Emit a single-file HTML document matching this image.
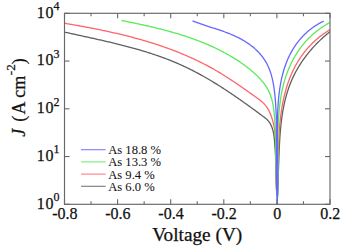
<!DOCTYPE html>
<html><head><meta charset="utf-8"><style>
html,body{margin:0;padding:0;background:#fff;width:342px;height:247px;overflow:hidden}
svg{display:block}
text{font-family:"Liberation Serif",serif;font-size:16px;fill:#111;stroke:#111;stroke-width:0.25px}
.sup{font-size:12px}
.leg{font-size:12.6px;stroke-width:0.05px}
</style></head><body>
<svg width="342" height="247" viewBox="0 0 342 247">
<defs><clipPath id="c"><rect x="64.50" y="13.30" width="265.50" height="191.00"/></clipPath></defs>
<g fill="none" stroke-width="1.30" stroke-linejoin="round" clip-path="url(#c)"><path d="M64.47,32.08 L65.44,32.29 L66.40,32.51 L67.37,32.72 L68.33,32.94 L69.30,33.15 L70.26,33.36 L71.23,33.58 L72.19,33.79 L73.16,34.00 L74.13,34.21 L75.09,34.42 L76.06,34.64 L77.03,34.85 L77.99,35.06 L78.96,35.27 L79.93,35.48 L80.89,35.69 L81.86,35.91 L82.83,36.12 L83.80,36.33 L84.76,36.54 L85.73,36.75 L86.70,36.96 L87.67,37.18 L88.64,37.39 L89.60,37.60 L90.57,37.82 L91.54,38.03 L92.51,38.25 L93.48,38.46 L94.44,38.67 L95.41,38.89 L96.38,39.11 L97.35,39.32 L98.31,39.54 L99.28,39.76 L100.25,39.98 L101.21,40.20 L102.18,40.42 L103.15,40.64 L104.11,40.86 L105.08,41.08 L106.04,41.31 L107.01,41.53 L107.97,41.76 L108.94,41.98 L109.90,42.21 L110.87,42.44 L111.83,42.67 L112.80,42.90 L113.76,43.13 L114.72,43.37 L115.68,43.60 L116.65,43.84 L117.61,44.07 L118.57,44.31 L119.53,44.55 L120.49,44.79 L121.45,45.04 L122.41,45.28 L123.37,45.52 L124.33,45.77 L125.28,46.02 L126.24,46.27 L127.20,46.52 L128.16,46.78 L129.11,47.03 L130.07,47.29 L131.02,47.55 L131.97,47.81 L132.93,48.07 L133.88,48.33 L134.83,48.60 L135.78,48.87 L136.73,49.14 L137.68,49.41 L138.63,49.68 L139.58,49.96 L140.53,50.24 L141.48,50.52 L142.42,50.80 L143.37,51.08 L144.31,51.37 L145.26,51.66 L146.20,51.95 L147.14,52.25 L148.08,52.54 L149.02,52.84 L149.96,53.14 L150.90,53.44 L151.84,53.75 L152.78,54.06 L153.71,54.37 L154.65,54.68 L155.58,55.00 L156.51,55.32 L157.45,55.64 L158.38,55.97 L159.31,56.29 L160.24,56.62 L161.16,56.96 L162.09,57.29 L163.02,57.63 L163.94,57.97 L164.86,58.32 L165.79,58.66 L166.71,59.01 L167.63,59.37 L168.55,59.72 L169.46,60.08 L170.38,60.45 L171.30,60.81 L172.21,61.18 L173.12,61.56 L174.04,61.93 L174.95,62.31 L175.86,62.69 L176.76,63.08 L177.67,63.47 L178.57,63.86 L179.48,64.26 L180.38,64.66 L181.28,65.06 L182.18,65.47 L183.08,65.88 L183.98,66.30 L184.87,66.72 L185.77,67.14 L186.66,67.56 L187.55,67.99 L188.44,68.43 L189.33,68.86 L190.22,69.30 L191.11,69.75 L191.99,70.19 L192.87,70.64 L193.75,71.09 L194.64,71.55 L195.51,72.01 L196.39,72.47 L197.27,72.94 L198.14,73.41 L199.02,73.88 L199.89,74.35 L200.76,74.83 L201.63,75.31 L202.50,75.80 L203.37,76.28 L204.23,76.77 L205.10,77.26 L205.96,77.76 L206.82,78.26 L207.68,78.76 L208.54,79.26 L209.40,79.76 L210.25,80.27 L211.11,80.78 L211.96,81.29 L212.81,81.81 L213.67,82.32 L214.52,82.84 L215.36,83.36 L216.21,83.89 L217.06,84.41 L217.90,84.94 L218.74,85.47 L219.59,86.00 L220.43,86.53 L221.27,87.07 L222.11,87.61 L222.94,88.14 L223.78,88.69 L224.61,89.23 L225.45,89.77 L226.28,90.32 L227.11,90.87 L227.94,91.42 L228.77,91.97 L229.59,92.52 L230.42,93.07 L231.24,93.63 L232.07,94.18 L232.89,94.74 L233.71,95.30 L234.53,95.86 L235.35,96.42 L236.17,96.98 L236.98,97.55 L237.80,98.11 L238.61,98.68 L239.42,99.24 L240.23,99.81 L241.04,100.38 L241.85,100.95 L242.66,101.52 L243.47,102.09 L244.27,102.66 L245.07,103.24 L245.88,103.81 L246.68,104.38 L247.48,104.96 L248.28,105.53 L249.08,106.11 L249.87,106.68 L250.67,107.26 L251.46,107.83 L252.26,108.41 L253.05,108.99 L253.84,109.56 L254.63,110.14 L255.42,110.72 L256.21,111.30 L257.00,111.87 L257.78,112.45 L258.57,113.03 L259.35,113.61 L260.13,114.18 L260.91,114.76 L261.69,115.34 L262.47,115.91 L263.25,116.49 L264.02,117.07 L264.79,117.65 L265.54,118.25 L266.27,118.86 L266.98,119.50 L267.65,120.17 L268.27,120.87 L268.87,121.61 L269.42,122.38 L269.94,123.18 L270.42,124.00 L270.86,124.85 L271.28,125.73 L271.66,126.62 L272.01,127.54 L272.33,128.47 L272.63,129.42 L272.89,130.38 L273.14,131.36 L273.36,132.34 L273.56,133.34 L273.74,134.35 L273.90,135.37 L274.04,136.39 L274.17,137.42 L274.29,138.45 L274.39,139.49 L274.49,140.53 L274.58,141.56 L274.66,142.60 L274.74,143.63 L274.81,144.66 L274.89,145.69 L274.96,146.71 L275.03,147.72 L275.10,148.73 L275.17,149.73 L275.24,150.73 L275.31,151.72 L275.38,152.71 L275.44,153.70 L275.51,154.68 L275.57,155.66 L275.64,156.64 L275.70,157.62 L275.76,158.59 L275.82,159.56 L275.88,160.53 L275.94,161.49 L276.00,162.46 L276.05,163.42 L276.11,164.38 L276.16,165.35 L276.21,166.31 L276.26,167.27 L276.31,168.24 L276.36,169.20 L276.41,170.16 L276.45,171.13 L276.50,172.10 L276.54,173.06 L276.58,174.03 L276.62,175.01 L276.65,175.98 L276.69,176.96 L276.72,177.94 L276.75,178.92 L276.78,179.91 L276.81,180.90 L276.84,181.90 L276.86,182.90 L276.88,183.90 L276.90,184.91 L276.92,185.92 L276.94,186.94 L276.95,187.97 L276.96,189.00 L276.96,190.00 L277.38,190.00 L277.38,189.82 L277.43,189.15 L277.48,188.48 L277.53,187.81 L277.58,187.13 L277.62,186.46 L277.67,185.78 L277.71,185.11 L277.75,184.43 L277.80,183.75 L277.84,183.07 L277.88,182.39 L277.91,181.71 L277.95,181.02 L277.99,180.34 L278.02,179.66 L278.06,178.97 L278.09,178.28 L278.12,177.60 L278.16,176.91 L278.19,176.22 L278.22,175.53 L278.25,174.84 L278.28,174.15 L278.31,173.45 L278.34,172.76 L278.36,172.07 L278.39,171.37 L278.42,170.68 L278.45,169.98 L278.47,169.29 L278.50,168.59 L278.52,167.89 L278.55,167.19 L278.57,166.50 L278.60,165.80 L278.62,165.10 L278.65,164.40 L278.67,163.70 L278.70,162.99 L278.72,162.29 L278.75,161.59 L278.77,160.89 L278.80,160.18 L278.82,159.48 L278.85,158.78 L278.87,158.07 L278.90,157.37 L278.93,156.66 L278.95,155.96 L278.98,155.25 L279.01,154.55 L279.03,153.84 L279.06,153.13 L279.09,152.43 L279.12,151.72 L279.15,151.01 L279.18,150.30 L279.21,149.60 L279.24,148.89 L279.27,148.18 L279.30,147.47 L279.34,146.77 L279.37,146.06 L279.41,145.35 L279.44,144.64 L279.48,143.93 L279.52,143.22 L279.56,142.52 L279.60,141.81 L279.64,141.10 L279.68,140.39 L279.72,139.68 L279.77,138.97 L279.81,138.27 L279.86,137.56 L279.91,136.85 L279.96,136.14 L280.01,135.44 L280.06,134.73 L280.11,134.02 L280.17,133.32 L280.22,132.61 L280.28,131.90 L280.34,131.20 L280.40,130.49 L280.46,129.79 L280.52,129.08 L280.59,128.38 L280.66,127.67 L280.73,126.97 L280.80,126.26 L280.87,125.56 L280.94,124.86 L281.02,124.16 L281.10,123.45 L281.18,122.75 L281.26,122.05 L281.34,121.35 L281.43,120.65 L281.52,119.95 L281.61,119.25 L281.70,118.56 L281.80,117.86 L281.89,117.16 L281.99,116.47 L282.09,115.77 L282.20,115.08 L282.30,114.38 L282.41,113.69 L282.52,113.00 L282.64,112.30 L282.75,111.61 L282.87,110.92 L282.99,110.23 L283.12,109.54 L283.24,108.86 L283.37,108.17 L283.50,107.48 L283.64,106.80 L283.77,106.11 L283.91,105.43 L284.06,104.75 L284.20,104.06 L284.35,103.38 L284.50,102.70 L284.66,102.02 L284.82,101.35 L284.98,100.67 L285.14,99.99 L285.31,99.32 L285.48,98.65 L285.65,97.97 L285.83,97.30 L286.01,96.63 L286.19,95.96 L286.38,95.29 L286.57,94.63 L286.76,93.96 L286.96,93.30 L287.16,92.63 L287.36,91.97 L287.57,91.31 L287.78,90.65 L287.99,90.00 L288.21,89.34 L288.43,88.68 L288.66,88.03 L288.89,87.38 L289.12,86.73 L289.36,86.08 L289.60,85.43 L289.84,84.78 L290.09,84.14 L290.35,83.49 L290.60,82.85 L290.86,82.21 L291.13,81.57 L291.40,80.93 L291.67,80.29 L291.95,79.66 L292.23,79.03 L292.51,78.40 L292.80,77.77 L293.10,77.14 L293.39,76.51 L293.70,75.89 L294.00,75.26 L294.31,74.64 L294.63,74.02 L294.94,73.40 L295.26,72.79 L295.59,72.17 L295.92,71.56 L296.25,70.95 L296.59,70.34 L296.93,69.73 L297.27,69.13 L297.62,68.52 L297.98,67.92 L298.33,67.32 L298.69,66.73 L299.05,66.13 L299.42,65.54 L299.79,64.94 L300.16,64.35 L300.54,63.77 L300.92,63.18 L301.31,62.60 L301.69,62.01 L302.08,61.43 L302.48,60.86 L302.88,60.28 L303.28,59.71 L303.68,59.14 L304.09,58.57 L304.50,58.00 L304.92,57.44 L305.33,56.87 L305.75,56.31 L306.18,55.76 L306.60,55.20 L307.03,54.65 L307.47,54.09 L307.90,53.55 L308.34,53.00 L308.79,52.45 L309.23,51.91 L309.68,51.37 L310.13,50.84 L310.59,50.30 L311.04,49.77 L311.50,49.24 L311.97,48.71 L312.43,48.19 L312.90,47.66 L313.37,47.14 L313.84,46.62 L314.32,46.11 L314.80,45.60 L315.28,45.09 L315.77,44.58 L316.25,44.07 L316.74,43.57 L317.24,43.07 L317.73,42.58 L318.23,42.08 L318.73,41.59 L319.23,41.10 L319.74,40.61 L320.24,40.13 L320.75,39.65 L321.26,39.17 L321.78,38.70 L322.30,38.22 L322.81,37.75 L323.34,37.29 L323.86,36.82 L324.38,36.36 L324.91,35.90 L325.44,35.45 L325.97,34.99 L326.51,34.54 L327.04,34.10 L327.58,33.65 L328.12,33.21 L328.66,32.77 L329.21,32.34 L329.75,31.91 L330.30,31.48" stroke="#606060"/><path d="M64.48,23.24 L65.51,23.42 L66.53,23.59 L67.56,23.77 L68.59,23.95 L69.61,24.12 L70.64,24.30 L71.66,24.48 L72.69,24.66 L73.72,24.84 L74.74,25.02 L75.77,25.20 L76.80,25.39 L77.82,25.57 L78.85,25.76 L79.88,25.94 L80.91,26.13 L81.93,26.32 L82.96,26.51 L83.99,26.70 L85.01,26.89 L86.04,27.08 L87.07,27.27 L88.09,27.47 L89.12,27.66 L90.14,27.86 L91.17,28.06 L92.20,28.26 L93.22,28.46 L94.25,28.66 L95.27,28.87 L96.30,29.07 L97.32,29.28 L98.35,29.48 L99.37,29.69 L100.40,29.90 L101.42,30.11 L102.45,30.33 L103.47,30.54 L104.49,30.76 L105.52,30.98 L106.54,31.19 L107.56,31.42 L108.58,31.64 L109.61,31.86 L110.63,32.09 L111.65,32.31 L112.67,32.54 L113.69,32.77 L114.71,33.01 L115.73,33.24 L116.75,33.47 L117.76,33.71 L118.78,33.95 L119.80,34.19 L120.82,34.43 L121.83,34.68 L122.85,34.93 L123.86,35.17 L124.88,35.42 L125.89,35.68 L126.91,35.93 L127.92,36.19 L128.93,36.44 L129.94,36.71 L130.95,36.97 L131.96,37.23 L132.97,37.50 L133.98,37.77 L134.99,38.04 L136.00,38.31 L137.01,38.58 L138.01,38.86 L139.02,39.14 L140.02,39.42 L141.03,39.71 L142.03,39.99 L143.03,40.28 L144.03,40.57 L145.03,40.86 L146.03,41.16 L147.03,41.46 L148.03,41.76 L149.03,42.06 L150.03,42.36 L151.02,42.67 L152.02,42.98 L153.01,43.29 L154.00,43.61 L154.99,43.93 L155.99,44.25 L156.98,44.57 L157.96,44.89 L158.95,45.22 L159.94,45.55 L160.93,45.89 L161.91,46.22 L162.89,46.56 L163.88,46.90 L164.86,47.24 L165.84,47.59 L166.82,47.94 L167.80,48.29 L168.77,48.65 L169.75,49.01 L170.73,49.37 L171.70,49.73 L172.67,50.10 L173.64,50.47 L174.61,50.84 L175.58,51.22 L176.55,51.60 L177.52,51.98 L178.48,52.36 L179.45,52.75 L180.41,53.14 L181.37,53.54 L182.33,53.93 L183.29,54.33 L184.25,54.74 L185.20,55.14 L186.16,55.55 L187.11,55.97 L188.06,56.38 L189.01,56.80 L189.96,57.23 L190.91,57.65 L191.86,58.08 L192.80,58.52 L193.74,58.95 L194.69,59.39 L195.63,59.83 L196.56,60.28 L197.50,60.73 L198.44,61.19 L199.37,61.64 L200.30,62.10 L201.23,62.57 L202.16,63.04 L203.09,63.51 L204.02,63.98 L204.94,64.46 L205.87,64.94 L206.79,65.43 L207.71,65.92 L208.63,66.41 L209.54,66.91 L210.46,67.41 L211.37,67.92 L212.28,68.43 L213.19,68.94 L214.10,69.45 L215.00,69.97 L215.91,70.50 L216.81,71.03 L217.71,71.56 L218.61,72.09 L219.51,72.63 L220.40,73.17 L221.30,73.72 L222.19,74.27 L223.08,74.82 L223.97,75.37 L224.86,75.93 L225.75,76.49 L226.63,77.05 L227.52,77.62 L228.40,78.19 L229.28,78.76 L230.16,79.33 L231.04,79.91 L231.92,80.49 L232.79,81.07 L233.67,81.65 L234.54,82.23 L235.42,82.82 L236.29,83.41 L237.16,84.00 L238.03,84.59 L238.90,85.19 L239.76,85.78 L240.63,86.38 L241.50,86.98 L242.36,87.58 L243.23,88.18 L244.09,88.78 L244.95,89.39 L245.82,89.99 L246.68,90.60 L247.54,91.21 L248.40,91.81 L249.26,92.42 L250.11,93.03 L250.97,93.64 L251.83,94.25 L252.69,94.86 L253.54,95.47 L254.40,96.08 L255.25,96.70 L256.11,97.31 L256.96,97.92 L257.81,98.53 L258.66,99.15 L259.50,99.77 L260.32,100.41 L261.13,101.05 L261.92,101.72 L262.68,102.40 L263.42,103.10 L264.13,103.82 L264.81,104.57 L265.46,105.34 L266.08,106.13 L266.66,106.95 L267.23,107.79 L267.76,108.64 L268.27,109.51 L268.75,110.40 L269.21,111.30 L269.65,112.22 L270.06,113.15 L270.46,114.09 L270.83,115.04 L271.19,116.00 L271.53,116.97 L271.85,117.94 L272.16,118.92 L272.45,119.91 L272.72,120.90 L272.99,121.89 L273.23,122.89 L273.47,123.89 L273.69,124.90 L273.90,125.91 L274.09,126.93 L274.27,127.95 L274.44,128.97 L274.60,130.00 L274.75,131.03 L274.89,132.06 L275.01,133.10 L275.13,134.14 L275.24,135.18 L275.33,136.23 L275.42,137.27 L275.50,138.32 L275.57,139.38 L275.64,140.43 L275.69,141.49 L275.74,142.55 L275.78,143.61 L275.82,144.67 L275.85,145.74 L275.87,146.80 L275.89,147.87 L275.90,148.94 L275.91,150.01 L275.92,151.08 L275.92,152.15 L275.92,153.22 L275.91,154.29 L275.90,155.36 L275.89,156.43 L275.88,157.50 L275.87,158.57 L275.85,159.65 L275.84,160.72 L275.82,161.79 L275.80,162.85 L275.79,163.92 L275.77,164.99 L275.76,166.06 L275.74,167.12 L275.73,168.18 L275.72,169.25 L275.72,170.31 L275.71,171.36 L275.71,172.42 L275.71,173.47 L275.72,174.52 L275.73,175.57 L275.75,176.62 L275.77,177.66 L275.79,178.70 L275.82,179.74 L275.86,180.78 L275.91,181.81 L275.96,182.84 L276.02,183.86 L276.08,184.88 L276.16,185.90 L276.24,186.91 L276.33,187.92 L276.43,188.92 L276.54,189.92 L276.66,190.92 L276.79,191.91 L276.93,192.90 L277.08,193.88 L277.25,194.85 L277.25,195.00 L277.66,195.00 L277.66,194.65 L277.69,193.96 L277.72,193.28 L277.74,192.59 L277.77,191.90 L277.79,191.20 L277.81,190.51 L277.83,189.82 L277.86,189.12 L277.87,188.42 L277.89,187.72 L277.91,187.02 L277.93,186.32 L277.94,185.61 L277.96,184.91 L277.97,184.20 L277.99,183.50 L278.00,182.79 L278.02,182.08 L278.03,181.36 L278.04,180.65 L278.05,179.94 L278.06,179.22 L278.07,178.51 L278.08,177.79 L278.09,177.07 L278.10,176.35 L278.11,175.63 L278.12,174.91 L278.13,174.18 L278.13,173.46 L278.14,172.74 L278.15,172.01 L278.16,171.28 L278.17,170.56 L278.17,169.83 L278.18,169.10 L278.19,168.37 L278.20,167.64 L278.20,166.90 L278.21,166.17 L278.22,165.44 L278.23,164.70 L278.24,163.97 L278.25,163.23 L278.25,162.49 L278.26,161.76 L278.27,161.02 L278.28,160.28 L278.29,159.54 L278.30,158.80 L278.32,158.06 L278.33,157.32 L278.34,156.58 L278.35,155.84 L278.37,155.09 L278.38,154.35 L278.39,153.61 L278.41,152.86 L278.43,152.12 L278.44,151.37 L278.46,150.63 L278.48,149.88 L278.50,149.14 L278.52,148.39 L278.54,147.65 L278.56,146.90 L278.59,146.15 L278.61,145.41 L278.63,144.66 L278.66,143.91 L278.69,143.17 L278.72,142.42 L278.75,141.67 L278.78,140.92 L278.81,140.18 L278.84,139.43 L278.88,138.68 L278.91,137.93 L278.95,137.18 L278.99,136.44 L279.03,135.69 L279.07,134.94 L279.12,134.19 L279.16,133.45 L279.21,132.70 L279.26,131.95 L279.31,131.21 L279.36,130.46 L279.41,129.71 L279.46,128.97 L279.52,128.22 L279.58,127.48 L279.64,126.73 L279.70,125.99 L279.77,125.24 L279.83,124.50 L279.90,123.76 L279.97,123.01 L280.04,122.27 L280.12,121.53 L280.19,120.79 L280.27,120.04 L280.35,119.30 L280.43,118.56 L280.52,117.82 L280.61,117.09 L280.69,116.35 L280.79,115.61 L280.88,114.87 L280.98,114.14 L281.08,113.40 L281.18,112.67 L281.28,111.93 L281.39,111.20 L281.50,110.47 L281.61,109.74 L281.72,109.01 L281.84,108.28 L281.96,107.55 L282.08,106.82 L282.20,106.09 L282.33,105.36 L282.46,104.64 L282.59,103.92 L282.73,103.19 L282.87,102.47 L283.01,101.75 L283.16,101.03 L283.30,100.31 L283.46,99.59 L283.61,98.88 L283.77,98.16 L283.93,97.45 L284.09,96.73 L284.26,96.02 L284.43,95.31 L284.60,94.60 L284.78,93.89 L284.96,93.19 L285.14,92.48 L285.33,91.78 L285.52,91.07 L285.71,90.37 L285.91,89.67 L286.11,88.97 L286.31,88.28 L286.52,87.58 L286.73,86.89 L286.94,86.19 L287.16,85.50 L287.38,84.81 L287.61,84.13 L287.84,83.44 L288.07,82.76 L288.31,82.07 L288.55,81.39 L288.80,80.71 L289.05,80.03 L289.30,79.36 L289.56,78.68 L289.82,78.01 L290.08,77.34 L290.35,76.67 L290.63,76.00 L290.90,75.34 L291.18,74.68 L291.47,74.01 L291.76,73.36 L292.06,72.70 L292.35,72.04 L292.66,71.39 L292.96,70.74 L293.28,70.09 L293.59,69.44 L293.91,68.80 L294.24,68.15 L294.57,67.51 L294.90,66.87 L295.24,66.24 L295.58,65.61 L295.93,64.97 L296.28,64.34 L296.64,63.72 L297.00,63.09 L297.36,62.47 L297.73,61.85 L298.11,61.24 L298.48,60.62 L298.87,60.01 L299.26,59.40 L299.65,58.80 L300.05,58.19 L300.45,57.59 L300.85,56.99 L301.27,56.40 L301.68,55.80 L302.10,55.22 L302.53,54.63 L302.96,54.04 L303.39,53.46 L303.83,52.88 L304.28,52.31 L304.73,51.74 L305.18,51.17 L305.64,50.60 L306.10,50.04 L306.57,49.48 L307.05,48.92 L307.52,48.37 L308.01,47.82 L308.50,47.27 L308.99,46.73 L309.49,46.19 L309.99,45.65 L310.50,45.12 L311.01,44.59 L311.53,44.06 L312.06,43.54 L312.58,43.02 L313.12,42.50 L313.66,41.99 L314.20,41.48 L314.75,40.97 L315.31,40.47 L315.86,39.97 L316.43,39.48 L317.00,38.99 L317.58,38.50 L318.16,38.01 L318.74,37.54 L319.33,37.06 L319.93,36.59 L320.53,36.12 L321.14,35.66 L321.75,35.20 L322.37,34.74 L322.99,34.29 L323.62,33.84 L324.25,33.40 L324.89,32.96 L325.54,32.52 L326.19,32.09 L326.84,31.66 L327.51,31.24 L328.17,30.82 L328.84,30.41 L329.52,30.00 L330.21,29.59 L330.89,29.19" stroke="#ff6468"/><path d="M121.38,20.44 L122.27,20.62 L123.17,20.79 L124.06,20.98 L124.96,21.16 L125.85,21.34 L126.75,21.52 L127.64,21.70 L128.54,21.89 L129.44,22.07 L130.34,22.25 L131.24,22.44 L132.13,22.63 L133.03,22.81 L133.94,23.00 L134.84,23.19 L135.74,23.38 L136.64,23.57 L137.54,23.77 L138.44,23.96 L139.35,24.15 L140.25,24.35 L141.15,24.55 L142.06,24.74 L142.96,24.94 L143.87,25.14 L144.77,25.34 L145.68,25.55 L146.58,25.75 L147.49,25.95 L148.39,26.16 L149.30,26.37 L150.20,26.58 L151.11,26.79 L152.01,27.00 L152.92,27.22 L153.82,27.43 L154.73,27.65 L155.63,27.87 L156.54,28.09 L157.44,28.31 L158.35,28.53 L159.25,28.76 L160.15,28.98 L161.06,29.21 L161.96,29.44 L162.86,29.68 L163.77,29.91 L164.67,30.15 L165.57,30.38 L166.47,30.63 L167.38,30.87 L168.28,31.11 L169.18,31.36 L170.08,31.61 L170.98,31.86 L171.87,32.11 L172.77,32.36 L173.67,32.62 L174.57,32.88 L175.46,33.14 L176.36,33.40 L177.25,33.67 L178.15,33.94 L179.04,34.21 L179.93,34.48 L180.83,34.76 L181.72,35.04 L182.61,35.32 L183.50,35.60 L184.38,35.89 L185.27,36.17 L186.16,36.47 L187.04,36.76 L187.93,37.05 L188.81,37.35 L189.69,37.66 L190.57,37.96 L191.45,38.27 L192.33,38.58 L193.21,38.89 L194.09,39.21 L194.96,39.52 L195.84,39.85 L196.71,40.17 L197.58,40.50 L198.45,40.83 L199.32,41.16 L200.19,41.50 L201.05,41.84 L201.92,42.18 L202.78,42.53 L203.64,42.88 L204.50,43.23 L205.36,43.59 L206.22,43.95 L207.08,44.31 L207.93,44.68 L208.78,45.05 L209.63,45.42 L210.48,45.80 L211.33,46.18 L212.18,46.56 L213.02,46.95 L213.86,47.34 L214.70,47.73 L215.54,48.13 L216.38,48.53 L217.21,48.93 L218.05,49.34 L218.88,49.76 L219.71,50.17 L220.54,50.59 L221.36,51.02 L222.18,51.45 L223.00,51.88 L223.82,52.31 L224.64,52.75 L225.46,53.20 L226.27,53.64 L227.08,54.10 L227.89,54.55 L228.69,55.01 L229.50,55.48 L230.30,55.94 L231.10,56.42 L231.90,56.89 L232.69,57.38 L233.48,57.86 L234.27,58.35 L235.06,58.84 L235.85,59.34 L236.63,59.85 L237.41,60.35 L238.19,60.87 L238.96,61.38 L239.73,61.90 L240.50,62.43 L241.27,62.96 L242.04,63.49 L242.80,64.03 L243.56,64.58 L244.31,65.12 L245.07,65.68 L245.82,66.24 L246.57,66.80 L247.31,67.37 L248.05,67.94 L248.79,68.52 L249.53,69.10 L250.26,69.69 L250.98,70.28 L251.70,70.88 L252.41,71.49 L253.12,72.10 L253.82,72.71 L254.52,73.34 L255.21,73.96 L255.89,74.60 L256.56,75.24 L257.22,75.88 L257.88,76.54 L258.53,77.20 L259.17,77.86 L259.79,78.53 L260.41,79.21 L261.02,79.90 L261.62,80.59 L262.20,81.29 L262.78,82.00 L263.34,82.71 L263.89,83.44 L264.43,84.16 L264.96,84.90 L265.47,85.65 L265.97,86.40 L266.45,87.16 L266.92,87.92 L267.38,88.70 L267.82,89.48 L268.24,90.28 L268.65,91.08 L269.05,91.88 L269.42,92.70 L269.78,93.53 L270.13,94.36 L270.45,95.20 L270.76,96.06 L271.05,96.92 L271.33,97.78 L271.59,98.66 L271.84,99.54 L272.07,100.42 L272.29,101.32 L272.50,102.22 L272.69,103.12 L272.87,104.03 L273.05,104.95 L273.21,105.87 L273.36,106.79 L273.50,107.72 L273.63,108.65 L273.75,109.58 L273.87,110.52 L273.98,111.45 L274.08,112.39 L274.18,113.34 L274.27,114.28 L274.35,115.22 L274.43,116.17 L274.51,117.11 L274.58,118.06 L274.65,119.00 L274.72,119.95 L274.78,120.89 L274.85,121.83 L274.90,122.78 L274.96,123.72 L275.01,124.66 L275.06,125.60 L275.11,126.54 L275.16,127.49 L275.20,128.43 L275.24,129.37 L275.28,130.31 L275.32,131.25 L275.36,132.19 L275.39,133.12 L275.42,134.06 L275.45,135.00 L275.48,135.94 L275.50,136.88 L275.53,137.81 L275.55,138.75 L275.57,139.69 L275.59,140.62 L275.61,141.56 L275.63,142.49 L275.65,143.43 L275.66,144.36 L275.67,145.30 L275.69,146.23 L275.70,147.17 L275.71,148.10 L275.72,149.03 L275.73,149.97 L275.74,150.90 L275.75,151.83 L275.76,152.76 L275.77,153.69 L275.77,154.63 L275.78,155.56 L275.79,156.49 L275.79,157.42 L275.80,158.35 L275.81,159.28 L275.81,160.21 L275.82,161.14 L275.83,162.07 L275.84,162.99 L275.84,163.92 L275.85,164.85 L275.86,165.78 L275.87,166.71 L275.88,167.63 L275.89,168.56 L275.90,169.49 L275.91,170.41 L275.93,171.34 L275.94,172.27 L275.96,173.19 L275.97,174.12 L275.99,175.04 L276.01,175.97 L276.03,176.89 L276.05,177.82 L276.07,178.74 L276.10,179.67 L276.12,180.59 L276.15,181.51 L276.18,182.44 L276.21,183.36 L276.25,184.28 L276.28,185.21 L276.32,186.13 L276.36,187.05 L276.40,187.97 L276.44,188.89 L276.49,189.82 L276.54,190.74 L276.59,191.66 L276.64,192.58 L276.70,193.50 L276.75,194.42 L276.82,195.34 L276.88,196.26 L276.95,197.18 L277.02,198.10 L277.09,199.02 L277.17,199.94 L277.17,200.00 L277.36,200.00 L277.36,199.92 L277.41,199.14 L277.46,198.36 L277.51,197.59 L277.56,196.81 L277.60,196.03 L277.65,195.25 L277.69,194.47 L277.73,193.70 L277.76,192.92 L277.80,192.14 L277.83,191.36 L277.86,190.58 L277.89,189.80 L277.92,189.02 L277.94,188.23 L277.97,187.45 L277.99,186.67 L278.01,185.89 L278.03,185.11 L278.05,184.32 L278.07,183.54 L278.08,182.76 L278.09,181.97 L278.11,181.19 L278.12,180.40 L278.13,179.62 L278.14,178.83 L278.14,178.05 L278.15,177.26 L278.15,176.48 L278.16,175.69 L278.16,174.91 L278.16,174.12 L278.17,173.33 L278.17,172.55 L278.17,171.76 L278.16,170.97 L278.16,170.18 L278.16,169.40 L278.16,168.61 L278.15,167.82 L278.15,167.03 L278.14,166.24 L278.14,165.45 L278.13,164.66 L278.13,163.87 L278.12,163.08 L278.11,162.30 L278.11,161.51 L278.10,160.72 L278.09,159.93 L278.09,159.14 L278.08,158.34 L278.07,157.55 L278.06,156.76 L278.06,155.97 L278.05,155.18 L278.04,154.39 L278.04,153.60 L278.03,152.81 L278.02,152.02 L278.02,151.22 L278.01,150.43 L278.01,149.64 L278.00,148.85 L278.00,148.06 L277.99,147.27 L277.99,146.47 L277.99,145.68 L277.99,144.89 L277.98,144.10 L277.98,143.30 L277.99,142.51 L277.99,141.72 L277.99,140.93 L277.99,140.13 L278.00,139.34 L278.00,138.55 L278.01,137.76 L278.02,136.96 L278.02,136.17 L278.03,135.38 L278.04,134.59 L278.06,133.79 L278.07,133.00 L278.09,132.21 L278.10,131.42 L278.12,130.62 L278.14,129.83 L278.16,129.04 L278.18,128.24 L278.21,127.45 L278.23,126.66 L278.26,125.87 L278.29,125.07 L278.32,124.28 L278.35,123.49 L278.39,122.70 L278.43,121.91 L278.46,121.11 L278.51,120.32 L278.55,119.53 L278.59,118.74 L278.64,117.95 L278.69,117.15 L278.74,116.36 L278.80,115.57 L278.85,114.78 L278.91,113.99 L278.97,113.20 L279.04,112.41 L279.10,111.62 L279.17,110.83 L279.24,110.04 L279.32,109.25 L279.40,108.46 L279.48,107.67 L279.56,106.89 L279.65,106.10 L279.74,105.31 L279.83,104.53 L279.92,103.74 L280.02,102.96 L280.13,102.17 L280.23,101.39 L280.34,100.61 L280.45,99.83 L280.57,99.05 L280.69,98.27 L280.81,97.49 L280.94,96.71 L281.07,95.93 L281.20,95.15 L281.34,94.38 L281.48,93.61 L281.63,92.83 L281.78,92.06 L281.93,91.29 L282.09,90.52 L282.25,89.75 L282.42,88.98 L282.59,88.22 L282.77,87.45 L282.95,86.69 L283.13,85.93 L283.32,85.16 L283.51,84.40 L283.71,83.65 L283.91,82.89 L284.12,82.13 L284.33,81.38 L284.55,80.63 L284.77,79.88 L285.00,79.13 L285.23,78.38 L285.47,77.64 L285.71,76.89 L285.96,76.15 L286.21,75.41 L286.47,74.67 L286.73,73.94 L287.00,73.20 L287.27,72.47 L287.55,71.74 L287.83,71.01 L288.12,70.29 L288.41,69.56 L288.71,68.84 L289.01,68.12 L289.32,67.40 L289.63,66.69 L289.95,65.98 L290.27,65.27 L290.60,64.56 L290.94,63.86 L291.27,63.15 L291.62,62.46 L291.97,61.76 L292.32,61.07 L292.68,60.37 L293.05,59.69 L293.42,59.00 L293.79,58.32 L294.17,57.64 L294.56,56.96 L294.95,56.29 L295.35,55.62 L295.75,54.95 L296.16,54.29 L296.57,53.63 L296.99,52.97 L297.41,52.32 L297.84,51.67 L298.28,51.02 L298.72,50.38 L299.16,49.74 L299.61,49.10 L300.07,48.47 L300.53,47.84 L300.99,47.22 L301.47,46.60 L301.94,45.98 L302.43,45.37 L302.92,44.76 L303.41,44.15 L303.91,43.55 L304.41,42.95 L304.92,42.36 L305.44,41.77 L305.96,41.18 L306.49,40.60 L307.02,40.02 L307.56,39.45 L308.10,38.88 L308.65,38.32 L309.21,37.76 L309.77,37.20 L310.34,36.65 L310.91,36.11 L311.48,35.57 L312.07,35.03 L312.66,34.50 L313.25,33.97 L313.85,33.45 L314.46,32.93 L315.07,32.42 L315.68,31.91 L316.31,31.41 L316.94,30.91 L317.57,30.42 L318.21,29.93 L318.86,29.45 L319.51,28.98 L320.17,28.50 L320.83,28.04 L321.50,27.58 L322.17,27.12 L322.85,26.67 L323.54,26.23 L324.23,25.79 L324.93,25.36 L325.63,24.93 L326.34,24.51 L327.06,24.09 L327.78,23.68 L328.51,23.28 L329.24,22.88 L329.98,22.49 L330.72,22.10" stroke="#5aea5a"/><path d="M192.52,20.90 L193.19,21.17 L193.86,21.44 L194.54,21.70 L195.23,21.96 L195.91,22.22 L196.60,22.48 L197.30,22.73 L197.99,22.98 L198.69,23.23 L199.39,23.48 L200.10,23.72 L200.81,23.97 L201.52,24.21 L202.23,24.45 L202.95,24.69 L203.67,24.93 L204.39,25.17 L205.11,25.40 L205.83,25.64 L206.56,25.88 L207.29,26.11 L208.02,26.35 L208.75,26.58 L209.48,26.82 L210.22,27.05 L210.95,27.29 L211.69,27.52 L212.43,27.76 L213.16,28.00 L213.90,28.24 L214.64,28.48 L215.38,28.72 L216.12,28.96 L216.87,29.20 L217.61,29.45 L218.35,29.69 L219.09,29.94 L219.83,30.19 L220.57,30.44 L221.31,30.70 L222.05,30.95 L222.79,31.21 L223.53,31.48 L224.27,31.74 L225.01,32.01 L225.74,32.28 L226.48,32.55 L227.21,32.83 L227.95,33.11 L228.68,33.40 L229.41,33.69 L230.13,33.98 L230.86,34.27 L231.58,34.58 L232.30,34.88 L233.02,35.19 L233.74,35.50 L234.46,35.82 L235.17,36.15 L235.88,36.48 L236.59,36.81 L237.29,37.15 L237.99,37.49 L238.69,37.84 L239.39,38.20 L240.08,38.56 L240.77,38.93 L241.45,39.30 L242.13,39.68 L242.81,40.07 L243.48,40.46 L244.15,40.86 L244.82,41.27 L245.48,41.68 L246.14,42.10 L246.79,42.52 L247.44,42.96 L248.08,43.39 L248.72,43.84 L249.35,44.29 L249.97,44.74 L250.60,45.21 L251.21,45.68 L251.82,46.15 L252.42,46.63 L253.02,47.12 L253.61,47.62 L254.20,48.12 L254.77,48.62 L255.34,49.14 L255.91,49.65 L256.47,50.18 L257.02,50.71 L257.56,51.25 L258.09,51.79 L258.62,52.34 L259.14,52.89 L259.65,53.46 L260.15,54.02 L260.65,54.60 L261.13,55.17 L261.61,55.76 L262.08,56.35 L262.54,56.95 L262.99,57.55 L263.43,58.16 L263.86,58.77 L264.28,59.39 L264.70,60.02 L265.10,60.65 L265.49,61.29 L265.88,61.93 L266.25,62.58 L266.61,63.23 L266.96,63.89 L267.30,64.56 L267.64,65.23 L267.96,65.91 L268.27,66.59 L268.57,67.27 L268.87,67.96 L269.16,68.66 L269.43,69.36 L269.70,70.06 L269.96,70.77 L270.21,71.49 L270.46,72.20 L270.69,72.92 L270.92,73.65 L271.14,74.38 L271.35,75.11 L271.56,75.84 L271.76,76.58 L271.95,77.32 L272.14,78.07 L272.32,78.82 L272.49,79.57 L272.65,80.32 L272.81,81.07 L272.97,81.83 L273.12,82.59 L273.26,83.35 L273.40,84.12 L273.53,84.89 L273.66,85.65 L273.78,86.42 L273.90,87.19 L274.01,87.97 L274.12,88.74 L274.23,89.52 L274.33,90.29 L274.43,91.07 L274.52,91.85 L274.61,92.63 L274.70,93.41 L274.78,94.18 L274.86,94.96 L274.94,95.74 L275.01,96.52 L275.09,97.30 L275.16,98.08 L275.22,98.86 L275.29,99.64 L275.35,100.42 L275.42,101.20 L275.48,101.98 L275.53,102.76 L275.59,103.53 L275.64,104.31 L275.70,105.09 L275.75,105.86 L275.80,106.64 L275.84,107.42 L275.89,108.19 L275.93,108.97 L275.97,109.74 L276.01,110.52 L276.05,111.29 L276.08,112.07 L276.12,112.84 L276.15,113.62 L276.18,114.39 L276.21,115.16 L276.24,115.94 L276.27,116.71 L276.30,117.48 L276.32,118.26 L276.34,119.03 L276.37,119.80 L276.39,120.57 L276.40,121.35 L276.42,122.12 L276.44,122.89 L276.45,123.66 L276.47,124.43 L276.48,125.20 L276.49,125.97 L276.51,126.74 L276.52,127.51 L276.53,128.29 L276.53,129.06 L276.54,129.83 L276.55,130.60 L276.55,131.37 L276.56,132.14 L276.56,132.91 L276.56,133.67 L276.57,134.44 L276.57,135.21 L276.57,135.98 L276.57,136.75 L276.57,137.52 L276.57,138.29 L276.57,139.06 L276.56,139.83 L276.56,140.60 L276.56,141.36 L276.55,142.13 L276.55,142.90 L276.55,143.67 L276.54,144.44 L276.54,145.21 L276.53,145.97 L276.52,146.74 L276.52,147.51 L276.51,148.28 L276.51,149.05 L276.50,149.81 L276.49,150.58 L276.49,151.35 L276.48,152.12 L276.47,152.88 L276.47,153.65 L276.46,154.42 L276.45,155.19 L276.45,155.96 L276.44,156.72 L276.44,157.49 L276.43,158.26 L276.42,159.03 L276.42,159.79 L276.41,160.56 L276.41,161.33 L276.40,162.10 L276.40,162.87 L276.40,163.63 L276.39,164.40 L276.39,165.17 L276.39,165.94 L276.39,166.71 L276.39,167.48 L276.38,168.24 L276.38,169.01 L276.39,169.78 L276.39,170.55 L276.39,171.32 L276.39,172.09 L276.40,172.86 L276.40,173.63 L276.41,174.39 L276.41,175.16 L276.42,175.93 L276.43,176.70 L276.44,177.47 L276.44,178.24 L276.46,179.01 L276.47,179.78 L276.48,180.55 L276.49,181.32 L276.51,182.09 L276.53,182.86 L276.54,183.63 L276.56,184.41 L276.58,185.18 L276.60,185.95 L276.63,186.72 L276.65,187.49 L276.68,188.26 L276.70,189.03 L276.73,189.81 L276.76,190.58 L276.79,191.35 L276.83,192.12 L276.86,192.90 L276.90,193.67 L276.93,194.44 L276.97,195.22 L277.01,195.99 L277.06,196.77 L277.10,197.54 L277.15,198.31 L277.20,199.09 L277.25,199.86 L277.30,200.64 L277.35,201.41 L277.41,202.19 L277.46,202.97 L277.52,203.74 L277.59,204.52 L277.59,206.00 L277.02,206.00 L277.02,204.44 L277.08,203.64 L277.13,202.85 L277.18,202.05 L277.23,201.25 L277.27,200.45 L277.32,199.65 L277.36,198.86 L277.40,198.06 L277.44,197.26 L277.47,196.46 L277.51,195.66 L277.54,194.86 L277.57,194.07 L277.60,193.27 L277.63,192.47 L277.65,191.67 L277.68,190.87 L277.70,190.07 L277.72,189.27 L277.74,188.47 L277.75,187.67 L277.77,186.87 L277.78,186.08 L277.80,185.28 L277.81,184.48 L277.82,183.68 L277.83,182.88 L277.84,182.08 L277.84,181.28 L277.85,180.48 L277.85,179.68 L277.86,178.88 L277.86,178.08 L277.86,177.28 L277.86,176.48 L277.86,175.68 L277.85,174.87 L277.85,174.07 L277.85,173.27 L277.84,172.47 L277.84,171.67 L277.83,170.87 L277.82,170.07 L277.82,169.27 L277.81,168.47 L277.80,167.67 L277.79,166.86 L277.78,166.06 L277.77,165.26 L277.76,164.46 L277.74,163.66 L277.73,162.86 L277.72,162.06 L277.71,161.25 L277.69,160.45 L277.68,159.65 L277.67,158.85 L277.65,158.05 L277.64,157.24 L277.62,156.44 L277.61,155.64 L277.60,154.84 L277.58,154.03 L277.57,153.23 L277.55,152.43 L277.54,151.63 L277.52,150.82 L277.51,150.02 L277.50,149.22 L277.48,148.41 L277.47,147.61 L277.46,146.81 L277.45,146.00 L277.43,145.20 L277.42,144.40 L277.41,143.59 L277.40,142.79 L277.39,141.99 L277.38,141.18 L277.37,140.38 L277.36,139.58 L277.35,138.77 L277.35,137.97 L277.34,137.16 L277.33,136.36 L277.33,135.56 L277.33,134.75 L277.32,133.95 L277.32,133.14 L277.32,132.34 L277.32,131.53 L277.32,130.73 L277.32,129.93 L277.32,129.12 L277.33,128.32 L277.33,127.51 L277.34,126.71 L277.35,125.90 L277.35,125.10 L277.36,124.29 L277.38,123.49 L277.39,122.68 L277.40,121.88 L277.42,121.07 L277.44,120.27 L277.46,119.46 L277.48,118.66 L277.50,117.85 L277.52,117.04 L277.55,116.24 L277.57,115.43 L277.60,114.63 L277.63,113.82 L277.66,113.02 L277.70,112.21 L277.73,111.40 L277.77,110.60 L277.81,109.79 L277.85,108.99 L277.90,108.18 L277.94,107.37 L277.99,106.57 L278.04,105.76 L278.09,104.95 L278.15,104.15 L278.20,103.34 L278.26,102.54 L278.33,101.73 L278.39,100.93 L278.46,100.12 L278.53,99.32 L278.60,98.51 L278.68,97.71 L278.76,96.91 L278.84,96.10 L278.93,95.30 L279.01,94.50 L279.11,93.70 L279.20,92.90 L279.30,92.10 L279.40,91.30 L279.51,90.50 L279.62,89.71 L279.73,88.91 L279.85,88.12 L279.97,87.32 L280.10,86.53 L280.22,85.74 L280.36,84.95 L280.50,84.16 L280.64,83.37 L280.78,82.58 L280.93,81.80 L281.09,81.01 L281.25,80.23 L281.41,79.45 L281.58,78.67 L281.76,77.89 L281.93,77.11 L282.12,76.34 L282.31,75.56 L282.50,74.79 L282.70,74.02 L282.90,73.25 L283.11,72.48 L283.33,71.72 L283.55,70.96 L283.78,70.19 L284.01,69.44 L284.24,68.68 L284.49,67.92 L284.74,67.17 L284.99,66.42 L285.25,65.67 L285.52,64.93 L285.79,64.18 L286.07,63.44 L286.35,62.70 L286.65,61.97 L286.94,61.23 L287.25,60.50 L287.55,59.77 L287.87,59.05 L288.19,58.33 L288.52,57.61 L288.85,56.89 L289.19,56.18 L289.54,55.47 L289.90,54.76 L290.25,54.06 L290.62,53.36 L290.99,52.66 L291.37,51.97 L291.76,51.28 L292.15,50.60 L292.55,49.91 L292.95,49.24 L293.37,48.56 L293.78,47.89 L294.21,47.23 L294.64,46.57 L295.08,45.91 L295.52,45.26 L295.98,44.61 L296.43,43.96 L296.90,43.32 L297.37,42.69 L297.85,42.06 L298.34,41.43 L298.83,40.81 L299.33,40.20 L299.84,39.59 L300.35,38.98 L300.87,38.38 L301.40,37.78 L301.94,37.19 L302.48,36.61 L303.03,36.03 L303.58,35.45 L304.15,34.88 L304.72,34.32 L305.30,33.76 L305.88,33.21 L306.48,32.66 L307.08,32.12 L307.68,31.59 L308.30,31.06 L308.92,30.54 L309.55,30.02 L310.19,29.51 L310.83,29.01 L311.48,28.51 L312.14,28.02 L312.81,27.54 L313.49,27.06 L314.17,26.59 L314.86,26.12 L315.56,25.66 L316.26,25.21 L316.98,24.77 L317.70,24.33 L318.43,23.90 L319.16,23.48 L319.91,23.06 L320.66,22.65 L321.42,22.25 L322.19,21.86 L322.96,21.47 L323.75,21.10" stroke="#6666ff"/></g>
<rect x="64.50" y="13.30" width="265.50" height="191.00" fill="none" stroke="#686868" stroke-width="1.15"/>
<g stroke="#686868" stroke-width="1.1"><line x1="64.50" y1="204.30" x2="64.50" y2="199.30"/><line x1="64.50" y1="13.30" x2="64.50" y2="18.30"/><line x1="91.05" y1="204.30" x2="91.05" y2="201.30"/><line x1="91.05" y1="13.30" x2="91.05" y2="16.30"/><line x1="117.60" y1="204.30" x2="117.60" y2="199.30"/><line x1="117.60" y1="13.30" x2="117.60" y2="18.30"/><line x1="144.15" y1="204.30" x2="144.15" y2="201.30"/><line x1="144.15" y1="13.30" x2="144.15" y2="16.30"/><line x1="170.70" y1="204.30" x2="170.70" y2="199.30"/><line x1="170.70" y1="13.30" x2="170.70" y2="18.30"/><line x1="197.25" y1="204.30" x2="197.25" y2="201.30"/><line x1="197.25" y1="13.30" x2="197.25" y2="16.30"/><line x1="223.80" y1="204.30" x2="223.80" y2="199.30"/><line x1="223.80" y1="13.30" x2="223.80" y2="18.30"/><line x1="250.35" y1="204.30" x2="250.35" y2="201.30"/><line x1="250.35" y1="13.30" x2="250.35" y2="16.30"/><line x1="276.90" y1="204.30" x2="276.90" y2="199.30"/><line x1="276.90" y1="13.30" x2="276.90" y2="18.30"/><line x1="303.45" y1="204.30" x2="303.45" y2="201.30"/><line x1="303.45" y1="13.30" x2="303.45" y2="16.30"/><line x1="330.00" y1="204.30" x2="330.00" y2="199.30"/><line x1="330.00" y1="13.30" x2="330.00" y2="18.30"/><line x1="64.50" y1="204.30" x2="69.50" y2="204.30"/><line x1="330.00" y1="204.30" x2="325.00" y2="204.30"/><line x1="64.50" y1="156.55" x2="69.50" y2="156.55"/><line x1="330.00" y1="156.55" x2="325.00" y2="156.55"/><line x1="64.50" y1="108.80" x2="69.50" y2="108.80"/><line x1="330.00" y1="108.80" x2="325.00" y2="108.80"/><line x1="64.50" y1="61.05" x2="69.50" y2="61.05"/><line x1="330.00" y1="61.05" x2="325.00" y2="61.05"/><line x1="64.50" y1="13.30" x2="69.50" y2="13.30"/><line x1="330.00" y1="13.30" x2="325.00" y2="13.30"/></g>
<line x1="81" y1="149.7" x2="105.6" y2="149.7" stroke="#6666ff" stroke-width="1.1" stroke-opacity="0.85"/><text x="108.2" y="154.2" class="leg">As 18.8 %</text><line x1="81" y1="161.9" x2="105.6" y2="161.9" stroke="#5aea5a" stroke-width="1.1" stroke-opacity="0.85"/><text x="108.2" y="166.4" class="leg">As 13.3 %</text><line x1="81" y1="174.1" x2="105.6" y2="174.1" stroke="#ff6468" stroke-width="1.1" stroke-opacity="0.85"/><text x="108.2" y="178.6" class="leg">As 9.4 %</text><line x1="81" y1="186.3" x2="105.6" y2="186.3" stroke="#606060" stroke-width="1.1" stroke-opacity="0.85"/><text x="108.2" y="190.8" class="leg">As 6.0 %</text>
<text x="64.80" y="219.1" text-anchor="middle">-0.8</text><text x="117.90" y="219.1" text-anchor="middle">-0.6</text><text x="171.00" y="219.1" text-anchor="middle">-0.4</text><text x="224.10" y="219.1" text-anchor="middle">-0.2</text><text x="277.20" y="219.1" text-anchor="middle">0</text><text x="330.30" y="219.1" text-anchor="middle">0.2</text>
<text x="54.0" y="208.60" text-anchor="end" style="letter-spacing:0.6px">10</text><text x="53.5" y="201.10" class="sup">0</text><text x="54.0" y="160.85" text-anchor="end" style="letter-spacing:0.6px">10</text><text x="53.5" y="153.35" class="sup">1</text><text x="54.0" y="113.10" text-anchor="end" style="letter-spacing:0.6px">10</text><text x="53.5" y="105.60" class="sup">2</text><text x="54.0" y="65.35" text-anchor="end" style="letter-spacing:0.6px">10</text><text x="53.5" y="57.85" class="sup">3</text><text x="54.0" y="17.60" text-anchor="end" style="letter-spacing:0.6px">10</text><text x="53.5" y="10.10" class="sup">4</text>
<text x="197.2" y="240.5" text-anchor="middle" style="font-size:19.3px">Voltage (V)</text>
<text transform="translate(24.6,136.8) rotate(-90)" style="font-size:18px"><tspan font-style="italic">J</tspan><tspan dx="2.5"> (</tspan><tspan dx="1.3">A</tspan><tspan dx="0.3"> cm</tspan><tspan dy="-9.5" dx="0.5" style="font-size:13px">-2</tspan><tspan dy="9.5">)</tspan></text>
</svg>
</body></html>
